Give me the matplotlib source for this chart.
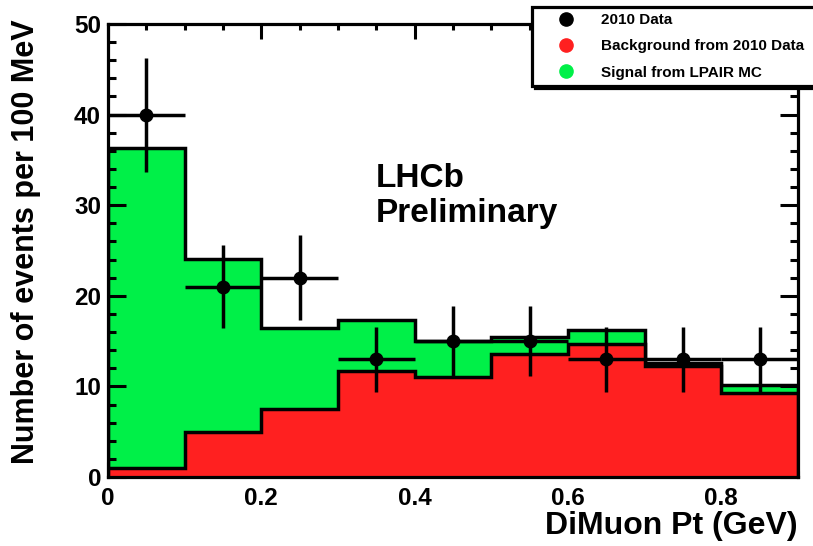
import matplotlib
matplotlib.use("Agg")
import matplotlib.pyplot as plt
from matplotlib.ticker import MultipleLocator
from matplotlib.lines import Line2D
import numpy as np

plt.rcParams['font.family'] = ['Liberation Sans', 'DejaVu Sans']
plt.rcParams['font.weight'] = 'bold'

# bins of 100 MeV
edges = [0.0, 0.1, 0.2, 0.3, 0.4, 0.5, 0.6, 0.7, 0.8, 0.9]
centers = [0.05, 0.15, 0.25, 0.35, 0.45, 0.55, 0.65, 0.75, 0.85]
# signal + background (stack top) and background only
total = [36.3, 24.1, 16.4, 17.3, 15.0, 15.4, 16.2, 12.6, 10.2]
background = [1.0, 5.0, 7.5, 11.7, 11.0, 13.6, 14.7, 12.2, 9.3]
# 2010 data with errors
data = [40, 21, 22, 13, 15, 15, 13, 13, 13]
data_err = [6.3, 4.6, 4.7, 3.6, 3.9, 3.9, 3.6, 3.6, 3.6]
xerr = [0.05] * 9

green = '#00F048'
red = '#FF2020'
lw = 2.5

fig = plt.figure(figsize=(8.13, 5.46), dpi=100)
ax = fig.add_axes([108/813, 1-477/546, 690/813, 453/546])

ax.stairs(total, edges, fill=True, color=green, zorder=1)
ax.stairs(total, edges, color='black', lw=lw, zorder=1.5)
ax.stairs(background, edges, fill=True, color=red, zorder=1.6)
ax.stairs(background, edges, color='black', lw=lw, zorder=1.7)

ax.errorbar(centers, data, yerr=data_err, xerr=xerr, fmt='o', color='black',
            ms=9, elinewidth=lw, capsize=0, zorder=3)

ax.set_xlim(0, 0.9)
ax.set_ylim(0, 50)
ax.xaxis.set_major_locator(MultipleLocator(0.2))
ax.xaxis.set_minor_locator(MultipleLocator(0.05))
ax.yaxis.set_major_locator(MultipleLocator(10))
ax.yaxis.set_minor_locator(MultipleLocator(2))
ax.set_xticks([0, 0.2, 0.4, 0.6, 0.8])
ax.set_xticklabels(['0', '0.2', '0.4', '0.6', '0.8'])

ax.tick_params(which='both', direction='in', top=True, right=True, width=2.2,
               labelsize=17.5)
ax.tick_params(axis='x', which='major', length=11, pad=7)
ax.tick_params(axis='x', which='minor', length=4)
ax.tick_params(axis='y', which='major', length=13, pad=5)
ax.tick_params(axis='y', which='minor', length=5.5)
for lab in ax.get_xticklabels() + ax.get_yticklabels():
    lab.set_fontweight('bold')
for sp in ax.spines.values():
    sp.set_linewidth(2.3)
    sp.set_zorder(4)

ax.set_xlabel('DiMuon Pt (GeV)', fontsize=23, fontweight='bold', loc='right')
ax.xaxis.set_label_coords(1.0, -0.075)
ax.set_ylabel('Number of events per 100 MeV', fontsize=22, fontweight='bold', loc='top')
ax.yaxis.set_label_coords(-0.097, 1.01)

ax.text(0.388, 0.640, 'LHCb', transform=ax.transAxes, fontsize=24,
        fontweight='bold', va='baseline')
ax.text(0.388, 0.563, 'Preliminary', transform=ax.transAxes, fontsize=24,
        fontweight='bold', va='baseline')

handles = [
    Line2D([], [], ls='none', marker='o', color='black', ms=9.5),
    Line2D([], [], ls='none', marker='o', color=red, ms=9.5),
    Line2D([], [], ls='none', marker='o', color=green, ms=9.5),
]
labels = ['2010 Data', 'Background from 2010 Data', 'Signal from LPAIR MC']
leg = fig.legend(handles, labels, loc='upper left',
                 bbox_to_anchor=(532/813, 1-7/546, (845-532)/813, 0),
                 mode='expand', fancybox=False, shadow={'color': 'black', 'alpha': 1},
                 prop={'size': 11, 'weight': 'bold'}, borderpad=0.4,
                 handlelength=3.7, handletextpad=0.4, labelspacing=0.8,
                 borderaxespad=0, framealpha=1)
leg.get_frame().set_edgecolor('black')
leg.get_frame().set_linewidth(2.3)

fig.savefig('out.png', dpi=100)
